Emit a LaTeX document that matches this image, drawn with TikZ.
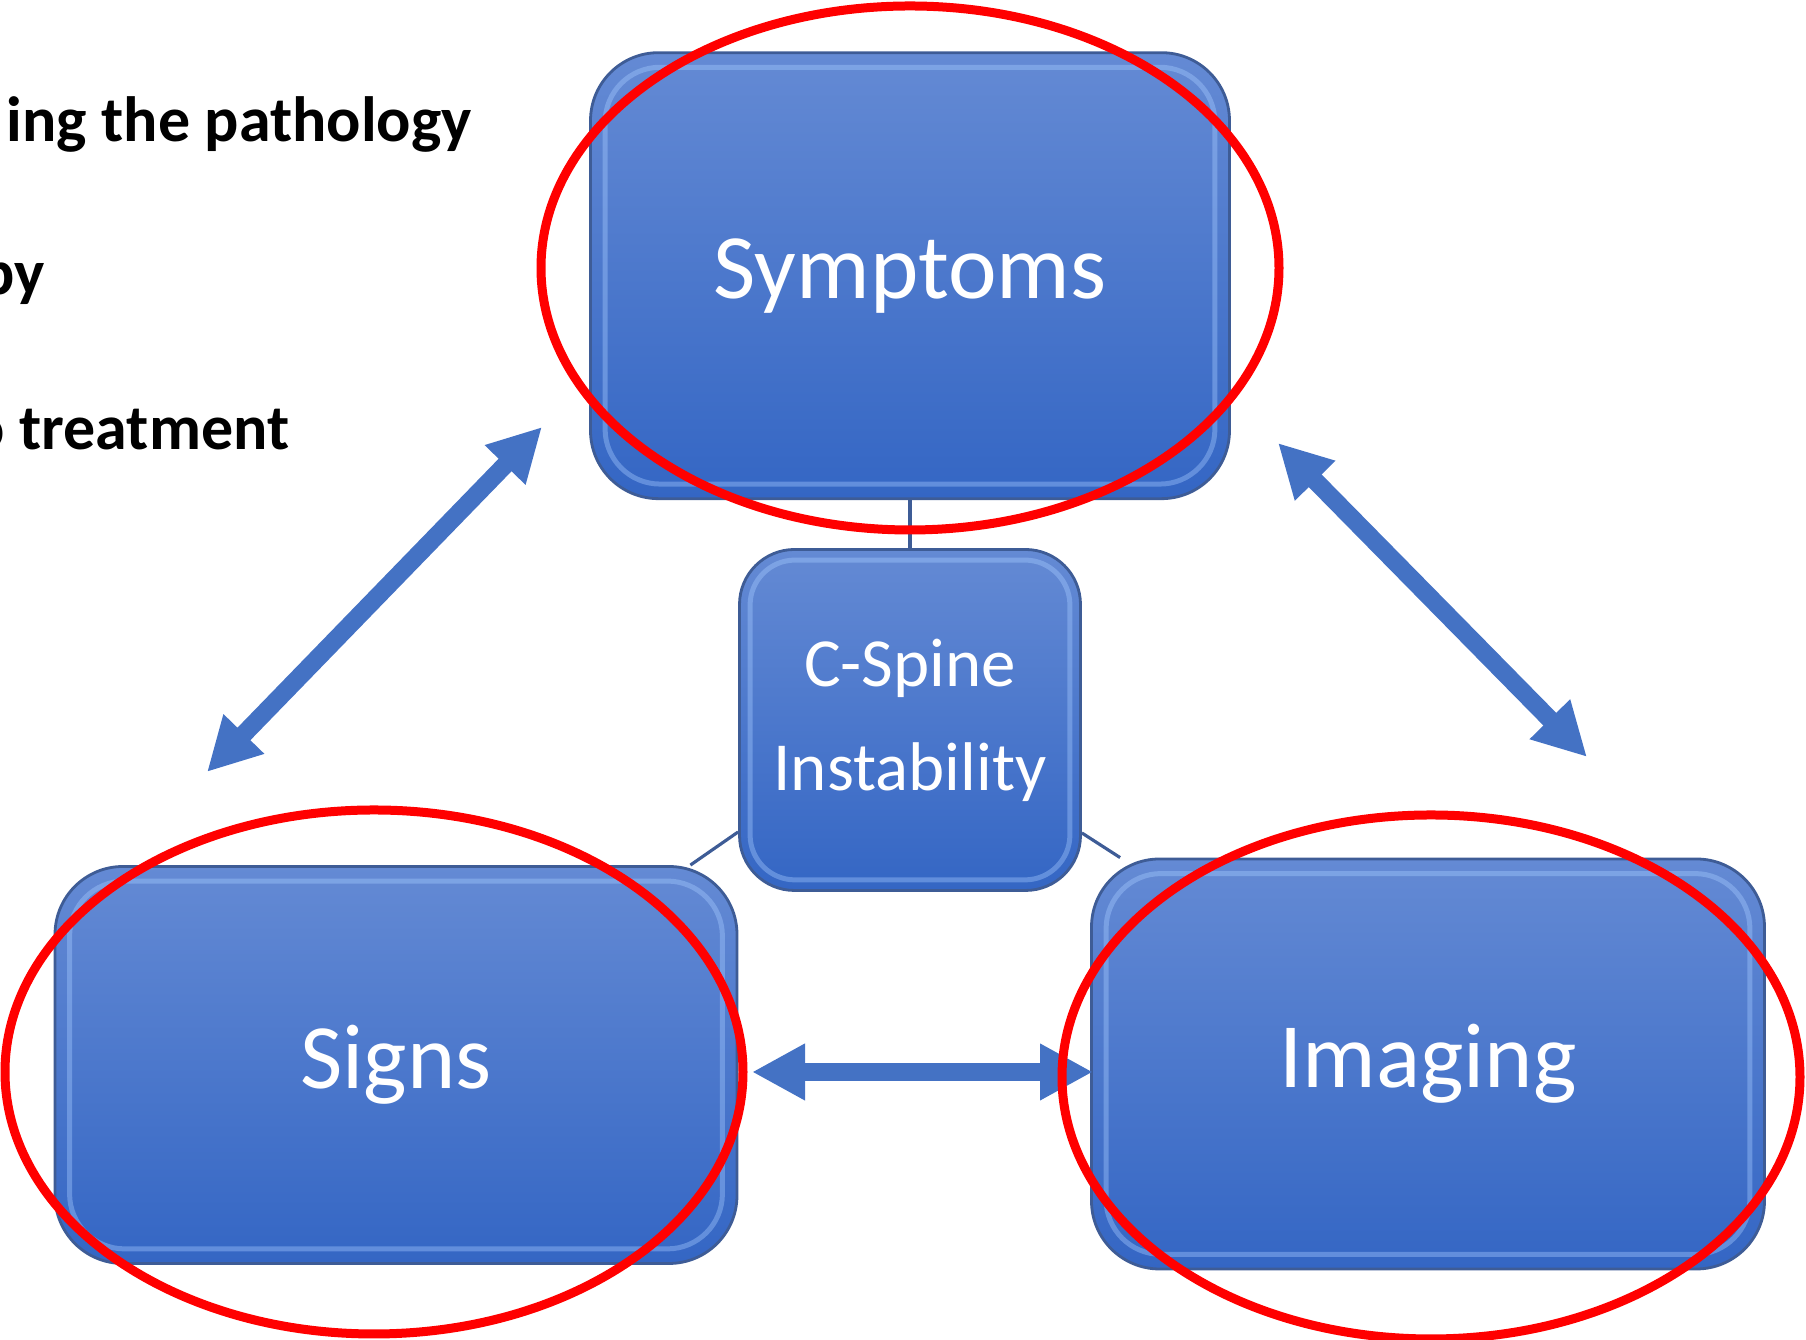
\documentclass[tikz,border=0pt]{standalone}
\usepackage{fontspec}
\setmainfont{Carlito}
\usetikzlibrary{arrows.meta,positioning}

\definecolor{boxtop}{RGB}{100,138,212}
\definecolor{boxbot}{RGB}{52,102,196}
\definecolor{boxedge}{RGB}{62,92,150}
\definecolor{bevel}{RGB}{165,202,255}
\definecolor{arrowblue}{RGB}{68,114,196}
\definecolor{ringred}{RGB}{255,0,0}

\begin{document}
\begin{tikzpicture}[
		node distance=0.48cm,
		box/.style={rectangle, rounded corners=0.68cm, draw=boxedge, line width=0.8pt,
			top color=boxtop, bottom color=boxbot, text=white, align=center, inner sep=0pt},
		bigbox/.style={box, font=\fontsize{26.2}{31}\selectfont},
		bevel/.style={draw=bevel, line width=0.05cm, opacity=0.4, rounded corners=0.55cm},
		link/.style={draw=boxedge, line width=0.9pt},
		bigarrow/.style={arrowblue, line width=0.18cm,
			{Triangle[length=0.53cm,width=0.53cm]}-{Triangle[length=0.53cm,width=0.53cm]}},
		ring/.style={ringred, line width=0.09cm},
		listtext/.style={anchor=base west, inner sep=0pt,
			font=\fontsize{18.2}{22}\selectfont\bfseries},
	]
		\useasboundingbox (0,0) rectangle (18.06,13.40);
		\clip (0,0) rectangle (18.06,13.40);

		% text cut off at the left edge
		\node (line1) [listtext] at (0.06,11.98) {ing the pathology};
		\node (line2) [listtext] at (-0.20,10.45) {py};
		\node (line3) [listtext] at (-0.30,8.90) {o treatment};

		% boxes
		\node (cspine) [box, minimum width=3.41cm, minimum height=3.41cm, rounded corners=0.55cm,
			font=\fontsize{19.6}{29.6}\selectfont] at (9.10,6.20) {C-Spine\\Instability};
		\node (symptoms) [bigbox, above=of cspine, minimum width=6.39cm, minimum height=4.46cm] {Symptoms};
		\node (signs) [bigbox, minimum width=6.82cm, minimum height=3.97cm] at (3.96,2.75) {Signs};
		\node (imaging) [bigbox, minimum width=6.73cm, minimum height=4.10cm] at (14.28,2.76) {Imaging};

		\foreach \b in {symptoms,signs,imaging}
			\draw[bevel] ([shift={(0.16,0.16)}]\b.south west) rectangle ([shift={(-0.16,-0.16)}]\b.north east);
		\draw[bevel, rounded corners=0.45cm] ([shift={(0.12,0.12)}]cspine.south west) rectangle ([shift={(-0.12,-0.12)}]cspine.north east);

		% thin links
		\draw[link] (cspine.north) -- (symptoms.south);
		\draw[link] ([yshift=-1.12cm]cspine.west) -- ([xshift=-0.48cm]signs.north east);
		\draw[link] ([yshift=-1.13cm]cspine.east) -- ([xshift=0.30cm]imaging.north west);

		% arrows
		\coordinate (la1) at (2.07,5.68);
		\coordinate (la2) at (5.42,9.13);
		\coordinate (ra1) at (12.78,8.97);
		\coordinate (ra2) at (15.87,5.83);
		\coordinate (ha1) at (7.52,2.68);
		\coordinate (ha2) at (10.93,2.68);
		\draw[bigarrow] (la1) -- (la2);
		\draw[bigarrow] (ra1) -- (ra2);
		\draw[bigarrow] (ha1) -- (ha2);

		% red rings
		\draw[ring] (9.10,10.72) ellipse [x radius=3.69, y radius=2.62];
		\draw[ring] (3.74,2.68) ellipse [x radius=3.69, y radius=2.62];
		\draw[ring] (14.31,2.63) ellipse [x radius=3.69, y radius=2.62];
\end{tikzpicture}
\end{document}
